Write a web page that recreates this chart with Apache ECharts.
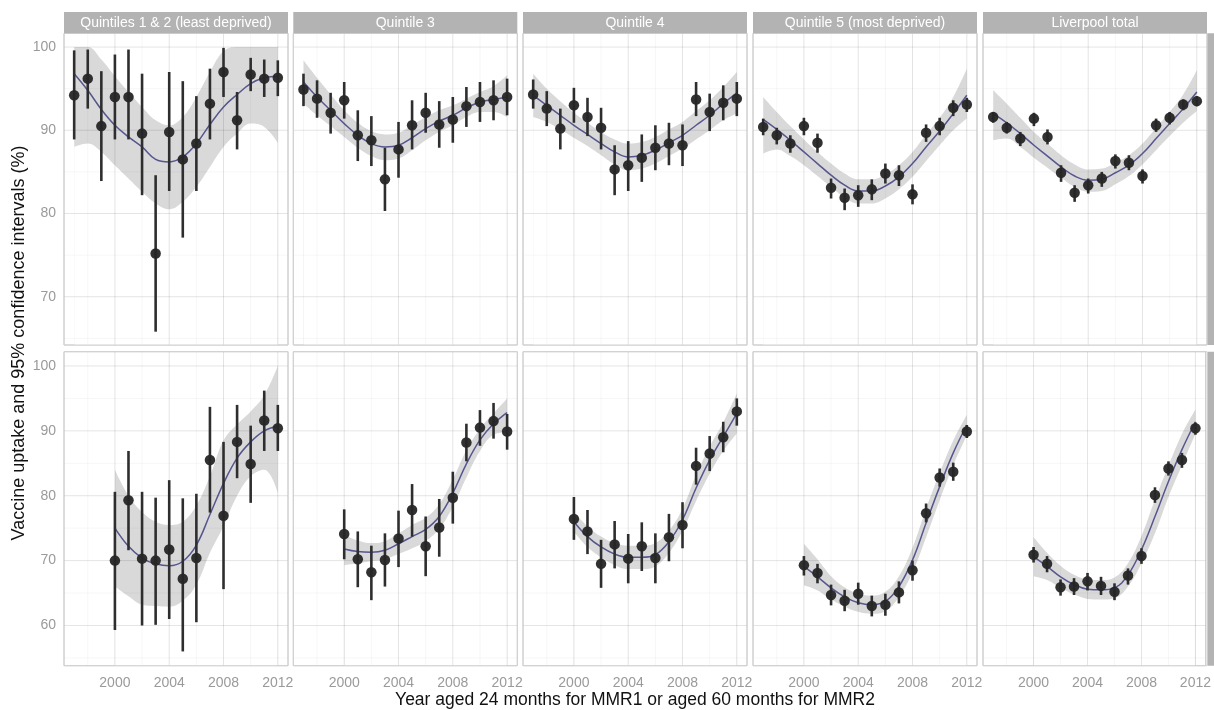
<!DOCTYPE html>
<html><head><meta charset="utf-8">
<script src="https://cdn.jsdelivr.net/npm/echarts@6/dist/echarts.min.js"></script>
<style>html,body{margin:0;padding:0;background:#fff}#c{width:1214px;height:710px}</style>
</head><body><div id="c"></div>
<script>
// ---------- DATA ----------
const years1 = [1997,1998,1999,2000,2001,2002,2003,2004,2005,2006,2007,2008,2009,2010,2011,2012];
const years2 = [2000,2001,2002,2003,2004,2005,2006,2007,2008,2009,2010,2011,2012];
const colLabels = ['Quintiles 1 & 2 (least deprived)','Quintile 3','Quintile 4','Quintile 5 (most deprived)','Liverpool total'];
const rowLabels = ['MMR1','MMR2'];
const xTickLabels = [2000,2004,2008,2012];
const xMinorTicks = [1998,2002,2006,2010];
const yTicksTop = [70,80,90,100];
const yMinorTop = [65,75,85,95];
const yTicksBottom = [60,70,80,90,100];
const yMinorBottom = [55,65,75,85,95];

// MMR1 — Quintiles 1 & 2
const q12_1_val = [94.2,96.2,90.5,94.0,94.0,89.6,75.2,89.8,86.5,88.4,93.2,97.0,91.2,96.7,96.2,96.3];
const q12_1_lo  = [88.9,92.6,83.9,88.9,88.9,82.2,65.8,82.7,77.1,82.7,88.9,94.0,87.7,94.7,94.0,94.1];
const q12_1_hi  = [99.6,99.7,97.1,99.1,99.7,96.8,84.6,97.0,95.9,94.1,97.4,99.9,94.6,98.7,98.5,98.4];
const q12_1_fit = [96.8,94.8,92.5,90.6,89.2,88.0,86.5,86.2,86.8,88.4,90.7,92.8,94.3,95.6,96.3,96.5];
const q12_1_bandLo = [88.0,88.4,87.4,85.8,84.2,82.6,81.2,80.5,81.4,83.2,85.6,88.0,89.6,90.8,90.4,88.5];
const q12_1_bandHi = [100,100,98.5,96.5,94.6,92.8,91.2,90.6,91.6,94.0,97.0,99.5,100,100,100,100];
// MMR1 — Quintile 3
const q3_1_val = [94.9,93.8,92.1,93.6,89.4,88.8,84.1,87.7,90.6,92.1,90.7,91.3,92.9,93.4,93.6,94.0];
const q3_1_lo  = [92.9,91.5,89.6,91.4,86.3,85.7,80.3,84.3,87.7,89.7,87.9,88.5,90.4,91.0,91.2,91.8];
const q3_1_hi  = [96.8,96.0,94.5,95.8,92.4,91.7,87.9,91.0,93.6,94.5,93.5,94.0,95.2,95.8,96.0,96.2];
const q3_1_fit = [95.8,94.0,92.4,90.8,89.4,88.4,88.0,88.2,89.1,90.2,91.1,91.8,92.7,93.4,93.7,94.0];
const q3_1_bandLo = [93.2,91.8,90.5,89.2,87.9,86.9,86.4,86.6,87.6,88.8,89.8,90.6,91.6,92.2,92.2,91.6];
const q3_1_bandHi = [98.4,96.3,94.3,92.4,90.9,89.9,89.5,89.7,90.6,91.6,92.4,93.0,93.8,94.6,95.3,96.6];
// MMR1 — Quintile 4
const q4_1_val = [94.3,92.6,90.2,93.0,91.6,90.3,85.3,85.8,86.7,87.9,88.4,88.2,93.7,92.2,93.3,93.8];
const q4_1_lo  = [92.6,90.5,87.7,90.9,89.3,87.7,82.2,82.7,83.8,85.2,85.8,85.7,91.7,89.9,91.2,91.7];
const q4_1_hi  = [96.1,94.7,92.6,95.1,93.9,92.7,88.2,88.7,89.5,90.6,90.9,90.7,95.8,94.4,95.4,95.8];
const q4_1_fit = [94.2,93.0,91.8,90.6,89.5,88.4,87.4,86.8,87.0,87.6,88.5,89.4,90.6,91.8,93.2,94.5];
const q4_1_bandLo = [91.6,91.0,90.1,89.1,88.1,87.0,85.9,85.2,85.4,86.0,86.9,87.8,88.9,90.0,91.2,92.0];
const q4_1_bandHi = [96.8,95.0,93.5,92.1,90.9,89.8,88.9,88.4,88.6,89.2,90.1,91.0,92.3,93.6,95.2,97.0];
// MMR1 — Quintile 5
const q5_1_val = [90.4,89.4,88.4,90.5,88.5,83.1,81.9,82.2,82.9,84.8,84.6,82.3,89.7,90.5,92.7,93.1];
const q5_1_lo  = [89.4,88.3,87.3,89.4,87.3,81.8,80.4,80.8,81.6,83.6,83.3,81.1,88.6,89.4,91.7,92.2];
const q5_1_hi  = [91.4,90.3,89.4,91.5,89.6,84.2,83.0,83.4,84.1,86.0,85.8,83.5,90.7,91.5,93.6,93.9];
const q5_1_fit = [91.3,90.1,88.8,87.4,86.0,84.6,83.4,82.7,82.7,83.3,84.4,86.0,88.0,89.9,92.0,94.2];
const q5_1_bandLo = [87.2,87.7,86.9,85.8,84.5,83.2,81.9,81.2,81.2,81.8,82.9,84.4,86.3,88.2,90.0,91.4];
const q5_1_bandHi = [94.0,92.2,90.5,88.9,87.4,86.0,84.8,84.1,84.1,84.7,85.8,87.4,89.5,91.5,94.0,97.4];
// MMR1 — Liverpool total
const liv_1_val = [91.6,90.3,89.0,91.4,89.2,84.9,82.5,83.4,84.2,86.3,86.1,84.5,90.6,91.5,93.1,93.5];
const liv_1_lo  = [90.9,89.6,88.1,90.5,88.3,83.8,81.4,82.4,83.2,85.4,85.2,83.6,89.8,90.7,92.4,92.9];
const liv_1_hi  = [92.2,91.0,89.8,92.1,90.1,85.8,83.4,84.2,85.0,87.1,87.0,85.3,91.4,92.2,93.7,94.1];
const liv_1_fit = [92.0,90.9,89.6,88.2,86.9,85.6,84.5,84.0,84.1,84.9,85.8,87.2,89.0,90.8,92.6,94.6];
const liv_1_bandLo = [88.8,89.0,88.0,86.7,85.5,84.3,83.2,82.6,82.7,83.5,84.5,85.9,87.6,89.3,90.9,92.3];
const liv_1_bandHi = [94.8,93.2,91.5,89.8,88.4,87.0,85.9,85.3,85.4,86.1,87.0,88.4,90.3,92.2,94.3,97.2];

// MMR2 — Quintiles 1 & 2
const q12_2_val = [70.0,79.3,70.3,70.0,71.7,67.2,70.4,85.5,76.9,88.3,84.9,91.6,90.4];
const q12_2_lo  = [59.3,71.6,60.0,60.1,61.0,56.0,60.5,77.4,65.6,82.7,78.9,86.9,86.9];
const q12_2_hi  = [80.6,86.9,80.6,79.7,82.4,79.6,80.3,93.7,88.3,94.0,90.8,96.2,94.0];
const q12_2_fit = [75.0,72.2,70.4,69.5,69.2,69.9,72.4,77.1,81.9,85.8,88.3,90.0,90.8];
const q12_2_bandLo = [66.0,64.5,63.2,63.0,62.9,63.8,66.3,71.2,75.3,80.0,83.0,84.0,80.4];
const q12_2_bandHi = [84.0,80.0,77.5,76.0,75.5,76.0,78.5,83.0,88.5,91.0,93.0,95.5,100];
// MMR2 — Quintile 3
const q3_2_val = [74.1,70.2,68.2,70.1,73.4,77.8,72.2,75.1,79.7,88.2,90.5,91.5,89.9];
const q3_2_lo  = [70.2,65.9,63.9,66.0,69.0,73.7,67.6,70.6,75.7,85.3,87.7,88.8,87.1];
const q3_2_hi  = [77.9,74.5,72.3,74.2,77.7,81.8,76.8,79.5,83.7,91.1,93.2,94.3,92.6];
const q3_2_fit = [71.8,71.4,71.3,71.6,72.6,73.7,74.8,76.8,80.4,84.9,88.6,91.1,92.8];
const q3_2_bandLo = [69.3,69.6,69.9,70.2,71.0,71.9,73.0,74.9,78.3,82.8,86.9,89.4,89.8];
const q3_2_bandHi = [74.0,73.1,72.7,73.0,74.2,75.5,76.6,78.7,82.5,87.0,90.3,92.7,95.0];
// MMR2 — Quintile 4
const q4_2_val = [76.4,74.5,69.5,72.5,70.3,72.2,70.4,73.6,75.5,84.6,86.5,89.0,93.0];
const q4_2_lo  = [73.2,71.0,65.8,68.8,66.5,68.4,66.5,69.9,71.9,81.7,83.8,86.7,90.8];
const q4_2_hi  = [79.8,77.8,73.2,76.1,74.1,75.9,74.2,77.2,79.0,87.4,89.2,91.4,95.0];
const q4_2_fit = [76.0,73.7,72.1,71.0,70.5,70.5,70.9,72.9,76.3,81.2,85.5,89.1,92.7];
const q4_2_bandLo = [74.5,72.1,70.5,69.3,68.7,68.7,69.1,71.2,74.6,79.2,83.4,86.9,89.6];
const q4_2_bandHi = [77.5,75.3,73.7,72.7,72.3,72.3,72.7,74.6,78.0,83.2,87.6,91.3,95.8];
// MMR2 — Quintile 5
const q5_2_val = [69.3,68.1,64.7,63.8,64.9,63.0,63.2,65.1,68.5,77.3,82.8,83.7,89.9];
const q5_2_lo  = [67.7,66.5,63.1,62.2,63.2,61.4,61.5,63.4,66.9,75.9,81.4,82.3,88.9];
const q5_2_hi  = [70.7,69.5,66.3,65.5,66.6,64.6,64.9,66.8,70.0,78.8,84.2,85.1,90.9];
const q5_2_fit = [69.1,67.5,65.8,64.4,63.5,63.2,63.7,66.0,70.1,75.8,81.4,86.6,90.9];
const q5_2_bandLo = [66.2,65.4,64.0,62.9,62.1,61.8,62.2,64.4,68.2,73.6,79.3,84.7,89.3];
const q5_2_bandHi = [72.6,70.2,67.6,65.9,64.9,64.6,65.2,67.6,72.0,78.0,83.5,88.5,92.5];
// MMR2 — Liverpool total
const liv_2_val = [70.9,69.5,65.9,66.0,66.8,66.1,65.2,67.7,70.7,80.1,84.2,85.5,90.4];
const liv_2_lo  = [69.7,68.2,64.6,64.7,65.4,64.7,63.9,66.3,69.5,78.9,83.1,84.3,89.4];
const liv_2_hi  = [72.1,70.7,67.1,67.3,68.1,67.5,66.5,68.8,71.9,81.3,85.3,86.6,91.3];
const liv_2_fit = [70.6,69.1,67.5,66.3,65.6,65.5,65.8,67.8,71.7,76.8,82.2,87.1,91.4];
const liv_2_bandLo = [67.6,67.0,65.8,64.8,64.1,64.0,64.2,66.0,69.6,74.2,79.8,84.7,89.5];
const liv_2_bandHi = [73.6,71.2,69.2,67.8,67.1,67.0,67.4,69.6,73.8,79.4,84.6,89.5,93.3];

// ---------- BUILD ----------
const panels = [
  [years1,q12_1_val,q12_1_lo,q12_1_hi,q12_1_fit,q12_1_bandLo,q12_1_bandHi],
  [years1,q3_1_val,q3_1_lo,q3_1_hi,q3_1_fit,q3_1_bandLo,q3_1_bandHi],
  [years1,q4_1_val,q4_1_lo,q4_1_hi,q4_1_fit,q4_1_bandLo,q4_1_bandHi],
  [years1,q5_1_val,q5_1_lo,q5_1_hi,q5_1_fit,q5_1_bandLo,q5_1_bandHi],
  [years1,liv_1_val,liv_1_lo,liv_1_hi,liv_1_fit,liv_1_bandLo,liv_1_bandHi],
  [years2,q12_2_val,q12_2_lo,q12_2_hi,q12_2_fit,q12_2_bandLo,q12_2_bandHi],
  [years2,q3_2_val,q3_2_lo,q3_2_hi,q3_2_fit,q3_2_bandLo,q3_2_bandHi],
  [years2,q4_2_val,q4_2_lo,q4_2_hi,q4_2_fit,q4_2_bandLo,q4_2_bandHi],
  [years2,q5_2_val,q5_2_lo,q5_2_hi,q5_2_fit,q5_2_bandLo,q5_2_bandHi],
  [years2,liv_2_val,liv_2_lo,liv_2_hi,liv_2_fit,liv_2_bandLo,liv_2_bandHi]
];

const FONT = '"Liberation Sans", Arial, Helvetica, sans-serif';
const X_MIN = 1996.25, X_MAX = 2012.75;
const yRanges = [[64.2, 101.65],[53.8, 102.2]];
const yMajor = [yTicksTop, yTicksBottom];
const yMinor = [yMinorTop, yMinorBottom];
const colLefts = [64, 293.3, 523, 753, 983];
const panelW = 224;
const rowTops = [33.3, 351.7];
const rowHs = [311.7, 314];

const grids = [], xAxes = [], yAxes = [], series = [], graphics = [];

function gridRender(params, api) {
  const cs = params.coordSys;
  const vertical = api.value(2) === 1;
  const major = api.value(3) === 1;
  const style = { stroke: major ? 'rgba(0,0,0,0.105)' : 'rgba(0,0,0,0.05)', lineWidth: major ? 1 : 0.7 };
  if (vertical) {
    const x = api.coord([api.value(0), api.value(1)])[0];
    return { type: 'line', shape: { x1: x, y1: cs.y, x2: x, y2: cs.y + cs.height }, style };
  } else {
    const y = api.coord([api.value(0), api.value(1)])[1];
    return { type: 'line', shape: { x1: cs.x, y1: y, x2: cs.x + cs.width, y2: y }, style };
  }
}
function errRender(params, api) {
  const a = api.coord([api.value(0), api.value(1)]);
  const b = api.coord([api.value(0), api.value(2)]);
  return { type: 'line', shape: { x1: a[0], y1: a[1], x2: b[0], y2: b[1] }, style: { stroke: '#2e2e2e', lineWidth: 2.6 } };
}

panels.forEach((p, i) => {
  const row = Math.floor(i / 5), col = i % 5;
  const [yrs, val, lo, hi, fit, bLo, bHi] = p;
  const yr = yRanges[row];
  grids.push({ left: colLefts[col], top: rowTops[row], width: panelW, height: rowHs[row],
    show: true, borderColor: '#d0d0d0', borderWidth: 1, backgroundColor: '#fff' });
  xAxes.push({ type: 'value', gridIndex: i, min: X_MIN, max: X_MAX,
    axisLine: { show: false }, axisTick: { show: false }, splitLine: { show: false },
    axisLabel: { show: row === 1, customValues: xTickLabels, formatter: v => String(v),
      color: '#9a9a9a', fontSize: 14, fontFamily: FONT, margin: 10 } });
  yAxes.push({ type: 'value', gridIndex: i, min: yr[0], max: yr[1],
    axisLine: { show: false }, axisTick: { show: false }, splitLine: { show: false },
    axisLabel: { show: col === 0, customValues: yMajor[row], formatter: v => String(v),
      color: '#9a9a9a', fontSize: 14, fontFamily: FONT, margin: 8 } });

  // confidence ribbon: grey area to the upper bound, white mask below the lower bound
  series.push({ type: 'line', xAxisIndex: i, yAxisIndex: i, smooth: 0.4, symbol: 'none', silent: true, z: 2,
    lineStyle: { opacity: 0 }, areaStyle: { color: '#d9d9d9', opacity: 1, origin: 'start' },
    data: yrs.map((y, k) => [y, bHi[k]]) });
  series.push({ type: 'line', xAxisIndex: i, yAxisIndex: i, smooth: 0.4, symbol: 'none', silent: true, z: 3,
    lineStyle: { opacity: 0 }, areaStyle: { color: '#ffffff', opacity: 1, origin: 'start' },
    data: yrs.map((y, k) => [y, bLo[k]]) });

  const ymid = (yr[0] + yr[1]) / 2, xmid = (X_MIN + X_MAX) / 2;
  const gridData = [];
  xMinorTicks.forEach(v => gridData.push([v, ymid, 1, 0]));
  yMinor[row].forEach(v => gridData.push([xmid, v, 0, 0]));
  xTickLabels.forEach(v => gridData.push([v, ymid, 1, 1]));
  yMajor[row].forEach(v => gridData.push([xmid, v, 0, 1]));
  series.push({ type: 'custom', xAxisIndex: i, yAxisIndex: i, silent: true, z: 4,
    renderItem: gridRender, data: gridData, encode: { x: 0, y: 1 } });

  series.push({ type: 'line', xAxisIndex: i, yAxisIndex: i, smooth: 0.4, symbol: 'none', silent: true, z: 5,
    lineStyle: { color: '#56568f', width: 1.5 }, data: yrs.map((y, k) => [y, fit[k]]) });
  series.push({ type: 'custom', xAxisIndex: i, yAxisIndex: i, silent: true, z: 6,
    renderItem: errRender, encode: { x: 0, y: [1, 2] }, data: yrs.map((y, k) => [y, lo[k], hi[k]]) });
  series.push({ type: 'scatter', xAxisIndex: i, yAxisIndex: i, silent: true, z: 7, symbolSize: 10.5,
    itemStyle: { color: '#262626', opacity: 0.95 }, data: yrs.map((y, k) => [y, val[k]]) });

  // panel border on top of everything
  graphics.push({ type: 'rect', z: 100, silent: true,
    shape: { x: colLefts[col], y: rowTops[row], width: panelW, height: rowHs[row] },
    style: { fill: 'none', stroke: '#d0d0d0', lineWidth: 1 } });
});

// column strips
colLabels.forEach((t, c) => {
  graphics.push({ type: 'rect', z: 100, shape: { x: colLefts[c], y: 12, width: panelW, height: 21.3 }, style: { fill: '#b3b3b3' }, silent: true });
  graphics.push({ type: 'text', z: 101, x: colLefts[c] + panelW / 2, y: 22.8, silent: true,
    style: { text: t, fill: '#ffffff', fontSize: 14, fontFamily: FONT, textAlign: 'center', textVerticalAlign: 'middle' } });
});
// row strips (mostly cut off at the right edge)
rowLabels.forEach((t, r) => {
  graphics.push({ type: 'rect', z: 100, shape: { x: 1207.5, y: rowTops[r], width: 22, height: rowHs[r] }, style: { fill: '#b3b3b3' }, silent: true });
  graphics.push({ type: 'text', z: 101, x: 1218.5, y: rowTops[r] + rowHs[r] / 2, rotation: -Math.PI / 2, silent: true,
    style: { text: t, fill: '#ffffff', fontSize: 14, fontFamily: FONT, textAlign: 'center', textVerticalAlign: 'middle' } });
});
// axis titles
graphics.push({ type: 'text', x: 635, y: 700, silent: true,
  style: { text: 'Year aged 24 months for MMR1 or aged 60 months for MMR2', fill: '#111', fontSize: 17.5, fontFamily: FONT, textAlign: 'center', textVerticalAlign: 'middle' } });
graphics.push({ type: 'text', x: 19.5, y: 343, rotation: Math.PI / 2, silent: true,
  style: { text: 'Vaccine uptake and 95% confidence intervals (%)', fill: '#111', fontSize: 18, fontFamily: FONT, textAlign: 'center', textVerticalAlign: 'middle' } });

const chart = echarts.init(document.getElementById('c'), null, { renderer: 'canvas' });
chart.setOption({
  backgroundColor: '#ffffff',
  animation: false,
  grid: grids, xAxis: xAxes, yAxis: yAxes, series: series, graphic: graphics
});
</script></body></html>
